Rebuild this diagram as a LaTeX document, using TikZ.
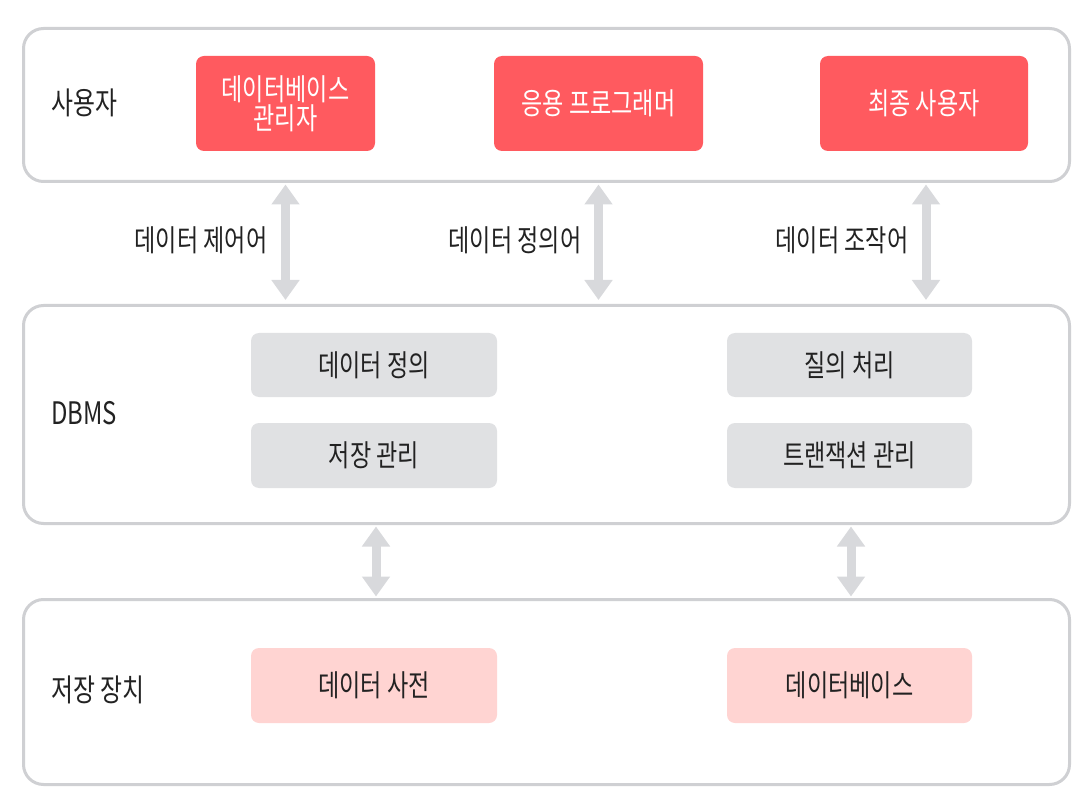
\documentclass[tikz,border=0pt]{standalone}
\usepackage{fontspec}
\setmainfont{Noto Sans CJK KR}[FakeStretch=0.77]
\usetikzlibrary{arrows.meta}
\definecolor{frame}{HTML}{CFD0D3}
\definecolor{redbox}{HTML}{FF5A5F}
\definecolor{graybox}{HTML}{E0E1E3}
\definecolor{pinkbox}{HTML}{FFD4D2}
\definecolor{arrowc}{HTML}{D8D9DC}
\definecolor{txt}{HTML}{222222}
\tikzset{
  outer/.style={draw=frame, line width=3pt, rounded corners=20pt, fill=white},
  inbox/.style={rounded corners=8pt, inner sep=0pt, align=center, font=\fontsize{30}{32}\selectfont},
  userbox/.style={inbox, fill=redbox, text=white},
  dbmsbox/.style={inbox, fill=graybox, text=txt},
  storebox/.style={inbox, fill=pinkbox, text=txt},
  lbl/.style={text=txt, font=\fontsize{31}{33}\selectfont, anchor=west, inner sep=0pt},
  albl/.style={text=txt, font=\fontsize{30}{32}\selectfont, inner sep=0pt},
  darrow/.style={draw=arrowc, line width=9pt, {Triangle[width=27pt,length=20pt]}-{Triangle[width=27pt,length=20pt]}}
}
\begin{document}
\begin{tikzpicture}[x=1pt,y=-1pt]
\useasboundingbox (0,0) rectangle (1087,802);
% outer boxes
\node[outer, minimum width=1046pt, minimum height=153pt, anchor=north west] (top) at (22,27) {};
\node[outer, minimum width=1046pt, minimum height=218pt, anchor=north west] (mid) at (22,304) {};
\node[outer, minimum width=1046pt, minimum height=185pt, anchor=north west] (bot) at (22,598) {};
% section labels
\node[lbl] (l1) at (51,103) {사용자};
\node[lbl] (l2) at (51,413) {DBMS};
\node[lbl] (l3) at (51,690) {저장 장치};
% user boxes
\node[userbox, minimum width=179pt, minimum height=95pt] (dba) at (285.5,103.5) {데이터베이스\\[-3pt]관리자};
\node[userbox, minimum width=209pt, minimum height=95pt] (app) at (598.5,103.5) {응용 프로그래머};
\node[userbox, minimum width=208pt, minimum height=95pt] (end) at (924,103.5) {최종 사용자};
% dbms boxes
\node[dbmsbox, minimum width=246pt, minimum height=64pt] (ddef) at (374,365) {데이터 정의};
\node[dbmsbox, minimum width=246pt, minimum height=65pt] (smgr) at (374,455.5) {저장 관리};
\node[dbmsbox, minimum width=245pt, minimum height=64pt] (qry) at (849.5,365) {질의 처리};
\node[dbmsbox, minimum width=245pt, minimum height=65pt] (tx) at (849.5,455.5) {트랜잭션 관리};
% storage boxes
\node[storebox, minimum width=246pt, minimum height=75pt] (dict) at (374,685.5) {데이터 사전};
\node[storebox, minimum width=245pt, minimum height=75pt] (db) at (849.5,685.5) {데이터베이스};
% arrows
\draw[darrow] ([yshift=-1.5pt]dba |- top.south) -- ([yshift=4pt]dba |- mid.north);
\draw[darrow] ([yshift=-1.5pt]app |- top.south) -- ([yshift=4pt]app |- mid.north);
\draw[darrow] ([xshift=2pt,yshift=-1.5pt]end |- top.south) -- ([xshift=2pt,yshift=4pt]end |- mid.north);
\draw[darrow] ([xshift=2pt,yshift=-1.5pt]smgr |- mid.south) -- ([xshift=2pt,yshift=1.5pt]smgr |- bot.north);
\draw[darrow] ([xshift=1.5pt,yshift=-1.5pt]tx |- mid.south) -- ([xshift=1.5pt,yshift=1.5pt]tx |- bot.north);
% arrow labels
\node[albl] (c1) at (201,240) {데이터 제어어};
\node[albl] (c2) at (515,240) {데이터 정의어};
\node[albl] (c3) at (842,240) {데이터 조작어};
\end{tikzpicture}
\end{document}
